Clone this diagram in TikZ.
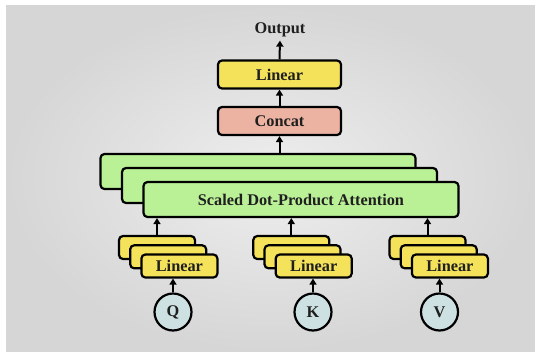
\documentclass[tikz,border=0pt]{standalone}
\usepackage{fontspec}
\setmainfont{Liberation Serif}
\usetikzlibrary{arrows.meta}
\definecolor{panel}{HTML}{D6D6D6}
\definecolor{glow}{HTML}{EEEEEE}
\definecolor{linyellow}{HTML}{F4E35A}
\definecolor{catpink}{HTML}{ECB3A2}
\definecolor{attgreen}{HTML}{BAF197}
\definecolor{inblue}{HTML}{CDE1E3}
\begin{document}
\begin{tikzpicture}[x=1pt,y=-1pt,
  every node/.style={font=\fontsize{16.3}{19}\selectfont\bfseries, text=black!88},
  box/.style={draw=black, line width=2.2pt, rounded corners=4pt, inner sep=0pt},
  toplin/.style={box, fill=linyellow, minimum width=123pt, minimum height=28pt},
  catbox/.style={box, fill=catpink, minimum width=123pt, minimum height=28pt},
  attbox/.style={box, fill=attgreen, minimum width=315pt, minimum height=35pt},
  linbox/.style={box, fill=linyellow, minimum width=76pt, minimum height=23pt},
  inbox/.style={circle, draw=black, line width=2.2pt, fill=inblue, minimum size=37pt, inner sep=0pt},
  arr/.style={line width=2pt, -{Triangle[length=6pt,width=7pt]}}
]
% page and shaded panel
\fill[white] (0,0) rectangle (535,351);
\shade[inner color=glow, outer color=panel] (6,5) rectangle (535,351);
\useasboundingbox (0,0) rectangle (535,351);

% output head
\node (out) at (280,30) {Output};
\node[toplin] (lin) at (279.5,74.5) {Linear};
\node[catbox] (cat) at (279.5,121) {Concat};

% stacked attention heads
\node[attbox] (att3) at (258,171.5) {};
\node[attbox] (att2) at (279.5,185.5) {};
\node[attbox] (att1) at (301,199.5) {Scaled Dot-Product Attention};

% stacked linear projections
\foreach \g/\x in {q/157, k/291.3, v/427.5}{
  \node[linbox] (\g b) at (\x,247.5) {};
  \node[linbox] (\g m) at (\x+11.2,256.8) {};
  \node[linbox] (\g f) at (\x+22.4,266) {Linear};
}

% inputs
\node[inbox] (q) at (173,312) {Q};
\node[inbox] (k) at (313,312) {K};
\node[inbox] (v) at (439.5,312) {V};

% connectors
\draw[arr] (lin.north) -- (out.south);
\draw[arr] (cat.north) -- (lin.south);
\draw[arr] (cat.south |- att3.north) -- (cat.south);
\foreach \g in {q,k,v}{
  \draw[arr] (\g b.north) -- (\g b.north |- att1.south);
  \draw[arr] (\g.north) -- (\g.north |- \g f.south);
}
\end{tikzpicture}
\end{document}
